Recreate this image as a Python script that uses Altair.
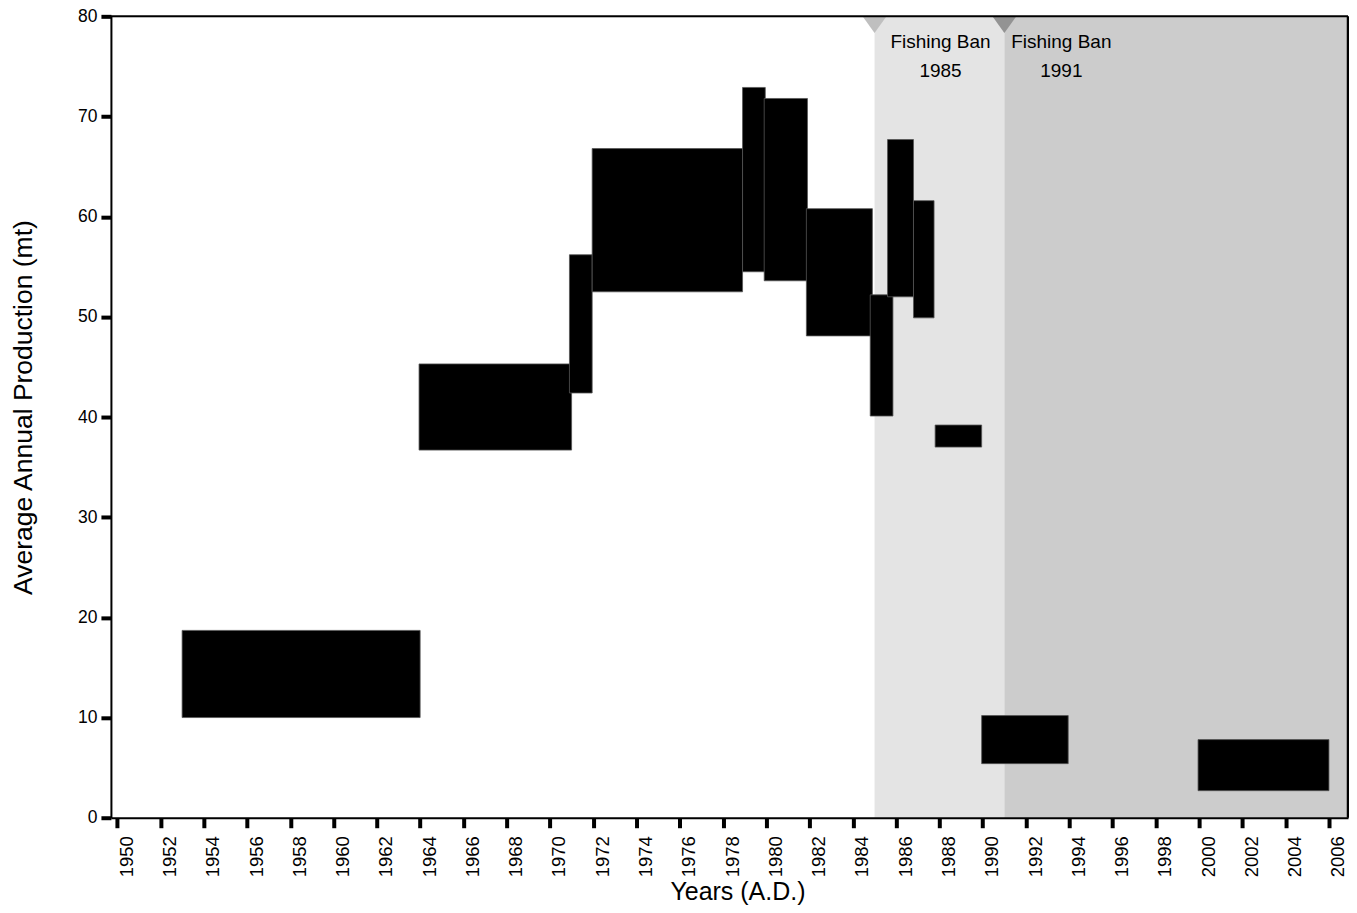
import altair as alt
import pandas as pd

# Floating bars: period start/end (years), low/high production (mt)
starts = [1953.0, 1963.95, 1970.9, 1971.95, 1978.9, 1979.9, 1981.85, 1984.8, 1985.6, 1986.8, 1987.8, 1989.95, 1999.95]
ends = [1964.0, 1971.0, 1971.95, 1978.9, 1979.95, 1981.9, 1984.9, 1985.85, 1986.8, 1987.75, 1989.95, 1993.95, 2006.0]
lows = [10.0, 36.7, 42.4, 52.5, 54.5, 53.6, 48.1, 40.1, 52.0, 49.9, 37.0, 5.4, 2.7]
highs = [18.7, 45.3, 56.2, 66.8, 72.9, 71.8, 60.8, 52.2, 67.7, 61.6, 39.2, 10.2, 7.8]

# Fishing ban periods
ban_years = [1985, 1991]
ban_ends = [1991, 2006.88]
ban_fill = ["#e4e4e4", "#cccccc"]
ban_marker = ["#bfbfbf", "#939393"]
ban_title = ["Fishing Ban", "Fishing Ban"]
ban_label = ["1985", "1991"]

XMIN, XMAX = 1949.71, 2006.88
YMIN, YMAX = 0, 80
W, H = 1238, 802
FONT = "Liberation Sans"

bars = pd.DataFrame({"start": starts, "end": ends, "low": lows, "high": highs})
bans = pd.DataFrame({"year": ban_years, "end": ban_ends, "fill": ban_fill,
                     "marker": ban_marker, "title": ban_title, "label": ban_label})
frame = pd.DataFrame({"a": [0]})

xscale = alt.Scale(domain=[XMIN, XMAX], nice=False, zero=False)
yscale = alt.Scale(domain=[YMIN, YMAX], nice=False)

xaxis = alt.Axis(
    title="Years (A.D.)", values=list(range(1950, 2007)), format="d",
    labelExpr="datum.value % 2 == 0 ? datum.label : ''",
    labelAngle=270, labelOffset=9, labelPadding=8, labelFontSize=18.5,
    labelFlush=False, labelBound=False, labelOverlap=False,
    tickSize=10, tickWidth=4, tickColor="black", domainColor="black", domainWidth=2,
    grid=False, titleFontSize=25, titleFontWeight="normal",
    titleX=627, titleY=82, titleBaseline="alphabetic", titleAlign="center",
    zindex=1,
)
yaxis = alt.Axis(
    title="Average Annual Production (mt)", values=list(range(0, 81, 10)),
    labelFontSize=17.5, labelPadding=4, tickSize=10, tickWidth=4, tickColor="black",
    domainColor="black", domainWidth=2, grid=False,
    titleFontSize=26.5, titleFontWeight="normal",
    titleX=-87, titleY=391, titleAngle=270, titleBaseline="middle", titleAlign="center",
    zindex=1,
)

shade = alt.Chart(bans).mark_rect().encode(
    x=alt.X("year:Q", scale=xscale, axis=xaxis),
    x2="end:Q",
    y=alt.datum(YMIN, scale=yscale, axis=yaxis),
    y2=alt.datum(YMAX),
    color=alt.Color("fill:N", scale=None),
)

bar_layer = alt.Chart(bars).mark_rect(stroke="#555555", strokeWidth=0.8, color="black").encode(
    x=alt.X("start:Q", scale=xscale),
    x2="end:Q",
    y=alt.Y("low:Q", scale=yscale),
    y2="high:Q",
)

markers = alt.Chart(bans).mark_point(
    shape="M-1,0L1,0L0,1.4Z", size=576, filled=True, opacity=1, strokeWidth=0
).encode(
    x=alt.X("year:Q", scale=xscale),
    y=alt.datum(YMAX),
    color=alt.Color("marker:N", scale=None),
)

dxs = [66, 57]
titles = []
for i in range(len(ban_years)):
    sub = bans.iloc[[i]]
    titles.append(alt.Chart(sub).mark_text(
        font=FONT, fontSize=19, color="black", dx=dxs[i], dy=32, baseline="alphabetic"
    ).encode(x=alt.X("year:Q", scale=xscale), y=alt.datum(YMAX), text="title:N"))
    titles.append(alt.Chart(sub).mark_text(
        font=FONT, fontSize=19, color="black", dx=dxs[i], dy=61, baseline="alphabetic"
    ).encode(x=alt.X("year:Q", scale=xscale), y=alt.datum(YMAX), text="label:N"))

top_border = alt.Chart(frame).mark_rule(color="black", strokeWidth=2).encode(
    x=alt.datum(XMIN), x2=alt.datum(XMAX), y=alt.datum(YMAX)
)
right_border = alt.Chart(frame).mark_rule(color="black", strokeWidth=2.5).encode(
    x=alt.datum(XMAX), y=alt.datum(YMIN), y2=alt.datum(YMAX)
)

chart = alt.layer(shade, bar_layer, markers, *titles, top_border, right_border).properties(
    width=W, height=H,
    autosize=alt.AutoSizeParams(type="none"),
    padding={"left": 103, "top": 8, "right": 1, "bottom": 87},
).configure_view(stroke=None).configure(
    font=FONT, background="white"
).configure_axis(labelFont=FONT, titleFont=FONT, labelColor="black", titleColor="black")

chart.save("out.html", embed_options={"renderer": "svg", "actions": False})
